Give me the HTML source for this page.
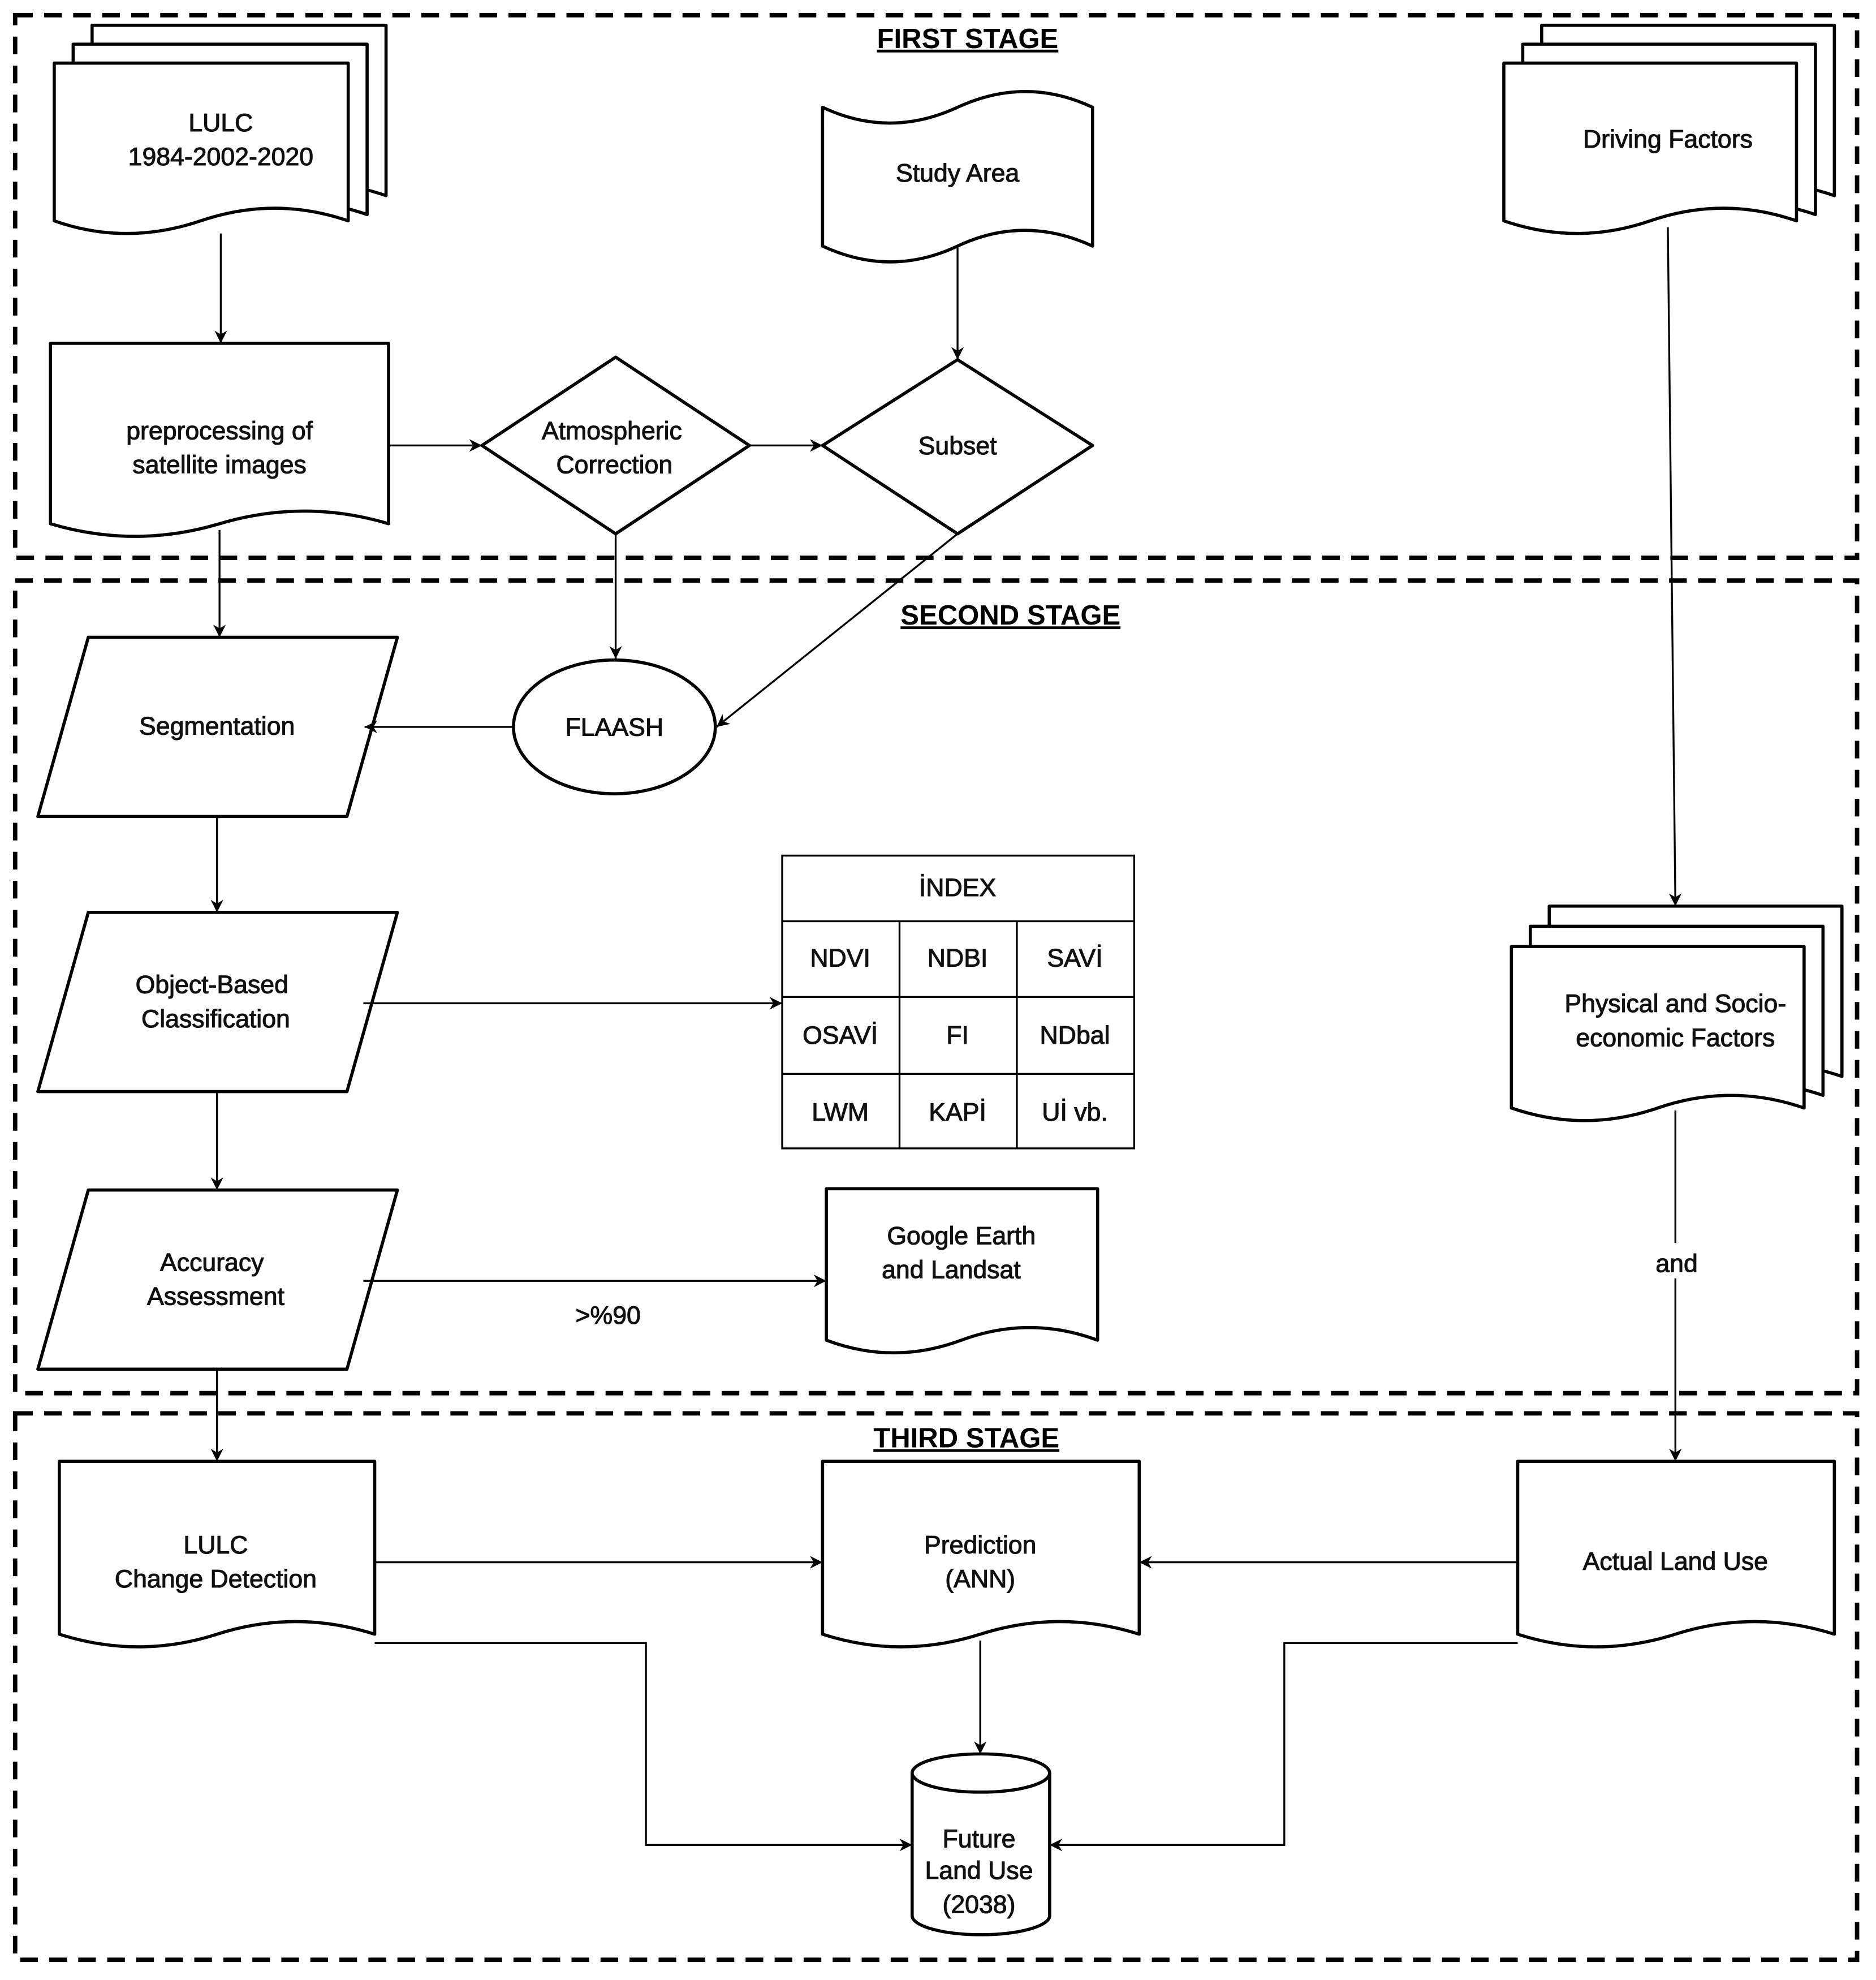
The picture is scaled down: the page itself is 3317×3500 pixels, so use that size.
<!DOCTYPE html>
<html><head><meta charset="utf-8"><style>html,body{margin:0;padding:0;background:#fff}svg{display:block}</style></head>
<body>
<svg xmlns="http://www.w3.org/2000/svg" width="3317" height="3500" viewBox="0 0 1487 1569">
<defs>
<marker id="a" markerWidth="12" markerHeight="12" refX="10" refY="5" orient="auto" markerUnits="userSpaceOnUse"><path d="M0,0 L10,5 L0,10 L3,5 Z" fill="#000"/></marker>
</defs>
<rect width="1487" height="1569" fill="#fff"/>
<g fill="none" stroke="#000" stroke-width="3.5" stroke-dasharray="14,9">
<rect x="12" y="12" width="1460" height="430"/>
<rect x="12" y="460" width="1460" height="644"/>
<rect x="12" y="1120" width="1460" height="433"/>
</g>
<g font-family="Liberation Sans, sans-serif" font-size="22" font-weight="bold" text-anchor="middle" text-decoration="underline">
<text x="767" y="38">FIRST STAGE</text>
<text x="801" y="495">SECOND STAGE</text>
<text x="766" y="1147">THIRD STAGE</text>
</g>
<g fill="#fff" stroke="#000" stroke-width="2.5" stroke-linejoin="round">
<path d="M73,20 H306 V155 Q248,135 189,155 T73,155 Z"/>
<path d="M58,35 H291 V170 Q233,150 174,170 T58,170 Z"/>
<path d="M43,50 H276 V175 Q218,155 159,175 T43,175 Z"/>
<path d="M1222,20 H1454 V155 Q1396,135 1338,155 T1222,155 Z"/>
<path d="M1207,35 H1439 V170 Q1381,150 1323,170 T1207,170 Z"/>
<path d="M1192,50 H1424 V175 Q1366,155 1308,175 T1192,175 Z"/>
<path d="M652,85 Q705,110 759,85 T866,85 V195 Q812,170 759,195 T652,195 Z"/>
<path d="M40,272 H308 V415 Q241,395 174,415 T40,415 Z"/>
<polygon points="488,283 594,353 488,423 382,353"/>
<polygon points="759,285 866,353 759,423 652,353"/>
<polygon points="70,505 315,505 275,647 30,647"/>
<ellipse cx="487" cy="576" rx="80" ry="53"/>
<polygon points="70,723 315,723 275,865 30,865"/>
<polygon points="70,943 315,943 275,1085 30,1085"/>
<path d="M655,942 H870 V1062 Q816,1042 762,1062 T655,1062 Z"/>
<path d="M1228,718 H1460 V853 Q1402,833 1344,853 T1228,853 Z"/>
<path d="M1213,734 H1445 V868 Q1387,848 1329,868 T1213,868 Z"/>
<path d="M1198,750 H1430 V878 Q1372,858 1314,878 T1198,878 Z"/>
<path d="M47,1158 H297 V1295 Q234,1275 172,1295 T47,1295 Z"/>
<path d="M652,1158 H903 V1295 Q840,1275 777,1295 T652,1295 Z"/>
<path d="M1203,1158 H1454 V1295 Q1391,1275 1328,1295 T1203,1295 Z"/>
<path d="M723,1405 V1518 A54,15 0 0 0 832,1518 V1405 A54,15 0 0 0 723,1405 Z"/>
<path d="M723,1405 A54,15 0 0 0 832,1405" fill="none"/>
</g>
<g fill="none" stroke="#000" stroke-width="1.5">
<rect x="620" y="678" width="279" height="232"/>
<path d="M620,730 H899 M620,790 H899 M620,851 H899 M713,730 V910 M806,730 V910"/>
</g>
<g fill="none" stroke="#000" stroke-width="1.5" marker-end="url(#a)">
<path d="M175,185 V272"/>
<path d="M759,195 V285"/>
<path d="M308,353 H382"/>
<path d="M594,353 H652"/>
<path d="M1322,180 L1328,718"/>
<path d="M174,420 V505"/>
<path d="M488,423 V522"/>
<path d="M759,423 L568,576"/>
<path d="M407,576 H289"/>
<path d="M172,647 V723"/>
<path d="M288,795 H620"/>
<path d="M172,865 V943"/>
<path d="M288,1015 H655"/>
<path d="M172,1085 V1158"/>
<path d="M1328,880 V1158"/>
<path d="M297,1238 H652"/>
<path d="M1203,1238 H903"/>
<path d="M777,1300 V1390"/>
<path d="M297,1302 H512 V1462 H723"/>
<path d="M1203,1302 H1018 V1462 H832"/>
</g>
<rect x="1305" y="985" width="48" height="28" fill="#fff"/>
<g font-family="Liberation Sans, sans-serif" font-size="20" text-anchor="middle" fill="#111" stroke="#111" stroke-width="0.5">
<text x="175" y="104">LULC</text>
<text x="175" y="131">1984-2002-2020</text>
<text x="759" y="144">Study Area</text>
<text x="1322" y="117">Driving Factors</text>
<text x="174" y="348">preprocessing of</text>
<text x="174" y="375">satellite images</text>
<text x="485" y="348">Atmospheric</text>
<text x="487" y="375">Correction</text>
<text x="759" y="360">Subset</text>
<text x="172" y="582">Segmentation</text>
<text x="487" y="583">FLAASH</text>
<text x="168" y="787">Object-Based</text>
<text x="171" y="814">Classification</text>
<text x="168" y="1007">Accuracy</text>
<text x="171" y="1034">Assessment</text>
<text x="482" y="1049">&gt;%90</text>
<text x="762" y="986">Google Earth</text>
<text x="754" y="1013">and  Landsat</text>
<text x="759" y="710">İNDEX</text>
<text x="666" y="766">NDVI</text><text x="759" y="766">NDBI</text><text x="852" y="766">SAVİ</text>
<text x="666" y="827">OSAVİ</text><text x="759" y="827">FI</text><text x="852" y="827">NDbal</text>
<text x="666" y="888">LWM</text><text x="759" y="888">KAPİ</text><text x="852" y="888">Uİ vb.</text>
<text x="1328" y="802">Physical and Socio-</text>
<text x="1328" y="829">economic Factors</text>
<text x="1329" y="1008">and</text>
<text x="171" y="1231">LULC</text>
<text x="171" y="1258">Change Detection</text>
<text x="777" y="1231">Prediction</text>
<text x="777" y="1258">(ANN)</text>
<text x="1328" y="1244">Actual Land Use</text>
<text x="776" y="1464">Future</text>
<text x="776" y="1489">Land Use</text>
<text x="776" y="1516">(2038)</text>
</g>
</svg>
</body></html>
